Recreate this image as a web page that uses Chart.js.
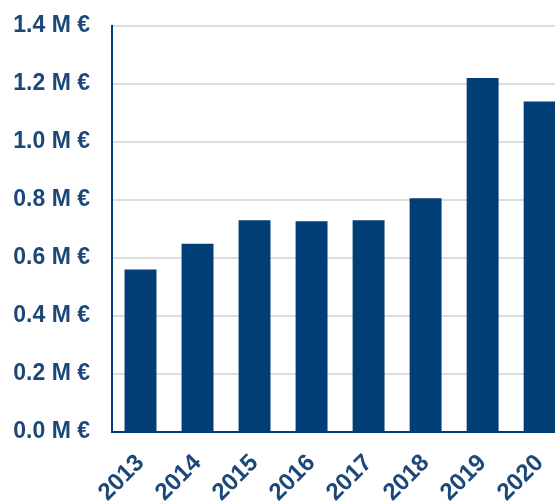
<!DOCTYPE html>
<html>
<head>
<meta charset="utf-8">
<script src="https://cdn.jsdelivr.net/npm/chart.js@4/dist/chart.umd.min.js"></script>
<style>
html,body{margin:0;padding:0;background:#fff;overflow:hidden;width:555px;height:503px;}
#wrap{position:absolute;left:0;top:-10px;width:577px;height:513px;}
</style>
</head>
<body>
<div id="wrap"><canvas id="c"></canvas></div>
<script>
const years = ["2013","2014","2015","2016","2017","2018","2019","2020"];
const valuesMEur = [0.560, 0.649, 0.730, 0.726, 0.730, 0.806, 1.220, 1.139];
const yTicks = [0, 0.2, 0.4, 0.6, 0.8, 1.0, 1.2, 1.4];

const barColor = "#003e75";
const labelColor = "#1b4878";
const yFont = {family: "'Liberation Sans', Arial, sans-serif", size: 23, weight: "bold"};
const xFont = {family: "'Liberation Sans', Arial, sans-serif", size: 24, weight: "bold"};

new Chart(document.getElementById("c"), {
  type: "bar",
  data: {
    labels: years,
    datasets: [{
      data: valuesMEur,
      backgroundColor: barColor,
      borderWidth: 0,
      categoryPercentage: 1,
      barPercentage: 0.56
    }]
  },
  options: {
    responsive: true,
    maintainAspectRatio: false,
    animation: false,
    layout: {padding: {top: 14, right: 0, left: 0, bottom: 0}},
    plugins: {legend: {display: false}, tooltip: {enabled: false}},
    scales: {
      x: {
        grid: {display: false, drawTicks: false},
        border: {display: true, color: barColor, width: 2},
        ticks: {color: labelColor, font: xFont, minRotation: 45, maxRotation: 45, padding: 17, autoSkip: false},
        afterFit: s => { s.height = 71; }
      },
      y: {
        min: 0, max: 1.4,
        afterBuildTicks: s => { s.ticks = yTicks.map(v => ({value: v})); },
        grid: {color: "#dcdcdc", lineWidth: 2, drawTicks: false},
        border: {display: true, color: barColor, width: 2},
        ticks: {color: labelColor, font: yFont, padding: 22,
          callback: v => Number(v).toFixed(1) + " M €"},
        afterFit: s => { s.width = 112; }
      }
    }
  }
});
</script>
</body>
</html>
